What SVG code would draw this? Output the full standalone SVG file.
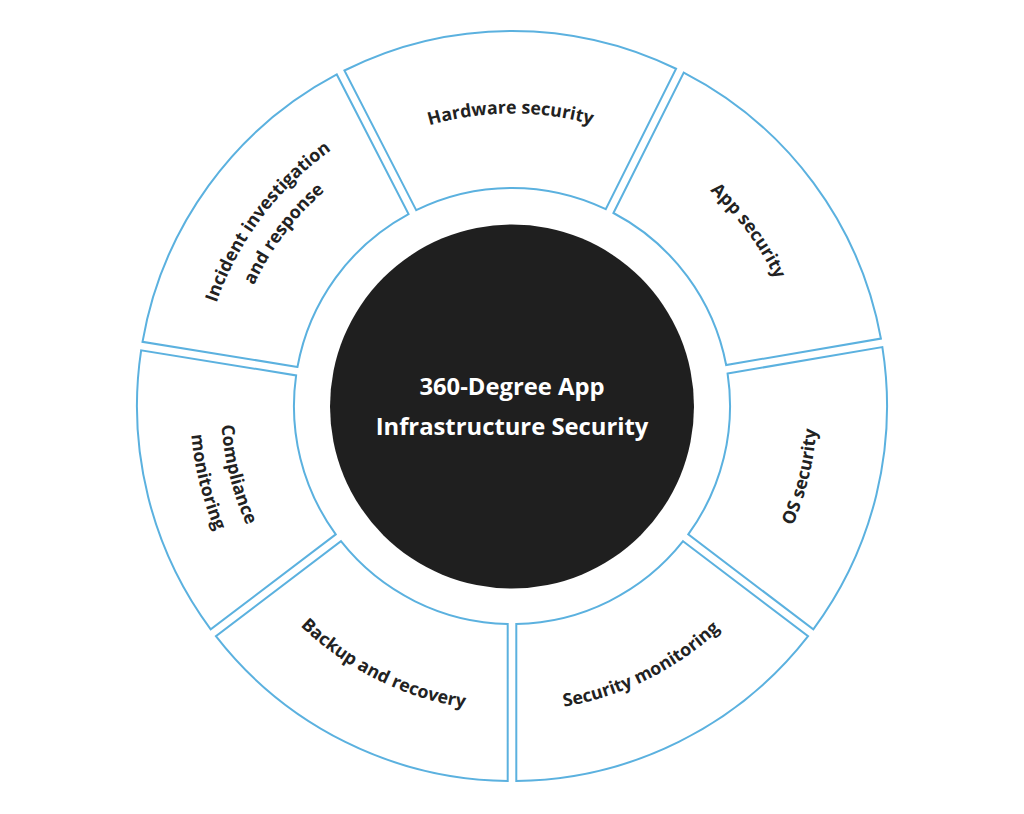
<svg xmlns="http://www.w3.org/2000/svg" xmlns:xlink="http://www.w3.org/1999/xlink" width="1024" height="814" viewBox="0 0 1024 814">
  <style>
    .seg { fill: #ffffff; stroke: #5bb1df; stroke-width: 2; stroke-linejoin: miter; }
    .lbl { font-family: "Open Sans", "Noto Sans", "Liberation Sans", sans-serif; font-weight: 700; font-size: 17.8px; fill: #222222; }
    .title { font-family: "Open Sans", "Noto Sans", "Liberation Sans", sans-serif; font-weight: 700; font-size: 23.8px; fill: #ffffff; }
  </style>
  <defs>
    <path id="cw292" d="M 258.69 259.75 A 292.5 292.5 0 0 1 765.31 259.75"/>
    <path id="cw313" d="M 240.93 249.5 A 313 313 0 0 1 783.07 249.5"/>
    <path id="cw285" d="M 265.18 263.5 A 285 285 0 0 1 758.82 263.5"/>
    <path id="ccw305" d="M 247.86 558.75 A 305 305 0 0 0 776.14 558.75"/>
    <path id="ccw291" d="M 259.99 551.5 A 291 291 0 0 0 764.01 551.5"/>
    <path id="ccw322" d="M 233.15 567 A 322 322 0 0 0 790.85 567"/>
  </defs>
  <rect width="1024" height="814" fill="#ffffff"/>
  <g id="connectors"></g>
  <g id="hardware-security">
    <path class="seg" d="M 416.18 210.13 L 344.42 70.49 A 375 375 0 0 1 676.07 68.76 L 605.77 209.15 A 218 218 0 0 0 416.18 210.13 Z"/>
    <g transform="rotate(-0.3 512 406)"><text class="lbl" text-anchor="middle"><textPath href="#cw292" startOffset="50%">Hardware security</textPath></text></g>
  </g>
  <g id="app-security">
    <path class="seg" d="M 613.46 213.00 L 683.76 72.61 A 375 375 0 0 1 880.92 338.58 L 726.16 365.03 A 218 218 0 0 0 613.46 213.00 Z"/>
    <g transform="rotate(53.45 512 406)"><text class="lbl" text-anchor="middle"><textPath href="#cw292" startOffset="50%">App security</textPath></text></g>
  </g>
  <g id="os-security">
    <path class="seg" d="M 727.60 373.51 L 882.36 347.06 A 375 375 0 0 1 813.30 629.31 L 688.25 534.39 A 218 218 0 0 0 727.60 373.51 Z"/>
    <g transform="rotate(-76.25 512 406)"><text class="lbl" text-anchor="middle"><textPath href="#ccw305" startOffset="50%">OS security</textPath></text></g>
  </g>
  <g id="security-monitoring">
    <path class="seg" d="M 683.05 541.24 L 808.10 636.16 A 375 375 0 0 1 516.3 781 L 516.3 624 A 218 218 0 0 0 683.05 541.24 Z"/>
    <g transform="rotate(-26.4 512 406)"><text class="lbl" text-anchor="middle"><textPath href="#ccw305" startOffset="50%">Security monitoring</textPath></text></g>
  </g>
  <g id="backup-and-recovery">
    <path class="seg" d="M 507.7 624 L 507.7 781 A 375 375 0 0 1 215.90 636.16 L 340.95 541.24 A 218 218 0 0 0 507.7 624 Z"/>
    <g transform="rotate(26.4 512 406)"><text class="lbl" text-anchor="middle"><textPath href="#ccw305" startOffset="50%">Backup and recovery</textPath></text></g>
  </g>
  <g id="compliance-monitoring">
    <path class="seg" d="M 335.75 534.39 L 210.70 629.31 A 375 375 0 0 1 141.13 350.28 L 296.11 375.39 A 218 218 0 0 0 335.75 534.39 Z"/>
    <g transform="rotate(76 512 406)">
      <text class="lbl" text-anchor="middle"><textPath href="#ccw291" startOffset="50%">Compliance</textPath></text>
      <text class="lbl" text-anchor="middle"><textPath href="#ccw322" startOffset="50%">monitoring</textPath></text>
    </g>
  </g>
  <g id="incident-investigation">
    <path class="seg" d="M 297.49 366.91 L 142.51 341.80 A 375 375 0 0 1 336.77 74.43 L 408.53 214.07 A 218 218 0 0 0 297.49 366.91 Z"/>
    <g transform="rotate(-53 512 406)">
      <text class="lbl" text-anchor="middle"><textPath href="#cw313" startOffset="50%">Incident investigation</textPath></text>
      <text class="lbl" text-anchor="middle"><textPath href="#cw285" startOffset="50%">and response</textPath></text>
    </g>
  </g>
  <g id="center">
    <circle cx="512" cy="406.5" r="182" fill="#1f1f1f"/>
    <text class="title" x="512" y="395" text-anchor="middle">360-Degree App</text>
    <text class="title" x="512" y="435" text-anchor="middle">Infrastructure Security</text>
  </g>
</svg>
